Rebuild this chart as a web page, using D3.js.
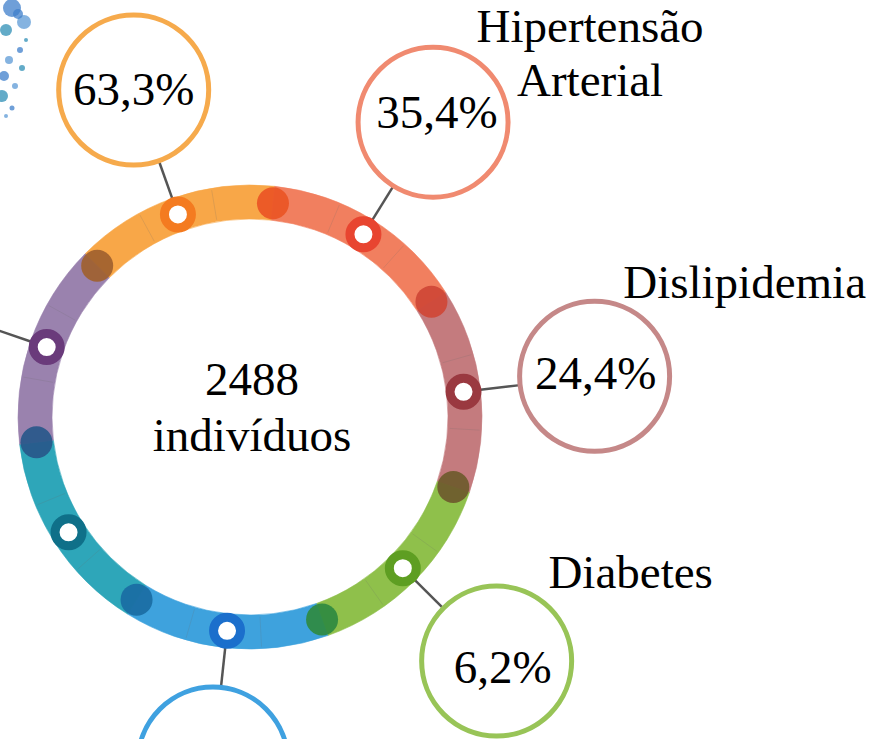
<!DOCTYPE html>
<html>
<head>
<meta charset="utf-8">
<script src="https://cdn.jsdelivr.net/npm/d3@7"></script>
<style>
  html, body { margin: 0; padding: 0; background: #fff; }
  svg { display: block; }
  text { font-family: "Liberation Serif", "Times New Roman", serif; fill: #000; }
</style>
</head>
<body>
<svg id="chart"></svg>
<script>
// chart data
const categories = ['', 'Hipertensão Arterial', 'Dislipidemia', 'Diabetes', '', '', ''];
const values = [63.3, 35.4, 24.4, 6.2, null, null, null];
const total = 2488;
const centerLines = [`${total}`, 'indivíduos'];

// styling
const segColors = ['#f8a748', '#f17f5f', '#c47b7e', '#8fc04b', '#3ea2dd', '#2ea6b9', '#9a82ae'];
const markerColors = ['#f47b20', '#e84530', '#9a3940', '#5e9e22', '#1b6fcc', '#0f7089', '#6a3b7b'];
const dotColors = ['#ea5525', '#cf4636', '#6e5a2c', '#2f8a40', '#1a6ca3', '#28588a', '#a0612f'];
const bubbleColors = ['#f6aa4c', '#f08a70', '#c58888', '#98c457', '#3fa1e0', null, null];

const width = 882;
const height = 739;
const cx = 250;
const cy = 417;
const rInner = 198;
const rOuter = 232;
const rMid = (rInner + rOuter) / 2;
const bubbleDist = 347;
const bubbleR = 75;
const toRad = Math.PI / 180;
const startDeg = -45.3;

// small nudges for text placement (relative to bubble centre)
const pctNudge = [[0, 15], [4, 6], [1, 13], [6, 22], [0, 15], [0, 15], [0, 15]];
const labelNudge = [null, [157, -80], [150, -78], [134, -73], null, null, null];

const svg = d3.select('#chart')
  .attr('width', width)
  .attr('height', height);

// faint paint splatter in the corner
const splat = [[12, 8, 9], [24, 22, 7], [6, 30, 6], [20, 50, 3], [9, 60, 4], [22, 68, 3], [4, 76, 5],
  [15, 86, 3], [2, 96, 6], [12, 108, 2.5], [6, 116, 2], [26, 40, 2], [18, 14, 5]];
svg.append('g')
  .selectAll('circle')
  .data(splat)
  .enter()
  .append('circle')
  .attr('cx', d => d[0])
  .attr('cy', d => d[1])
  .attr('r', d => d[2])
  .style('fill', (d, i) => i % 3 === 0 ? '#3f7fcb' : (i % 3 === 1 ? '#5c9ad6' : '#2f8fb5'))
  .style('opacity', 0.75);

const g = svg.append('g')
  .attr('transform', `translate(${cx}, ${cy})`);

const pie = d3.pie()
  .value(1)
  .sort(null)
  .startAngle(startDeg * toRad)
  .endAngle((startDeg + 360) * toRad);

const arcs = pie(categories.map((c, i) => ({ cat: c, value: values[i], i })));

const arc = d3.arc()
  .innerRadius(rInner)
  .outerRadius(rOuter);

g.selectAll('.seg')
  .data(arcs)
  .enter()
  .append('path')
  .attr('class', 'seg')
  .attr('d', arc)
  .style('fill', (d, i) => segColors[i])
  .style('stroke', (d, i) => segColors[i])
  .style('stroke-width', 0.6);

const polar = (deg, r) => [r * Math.sin(deg * toRad), -r * Math.cos(deg * toRad)];
const midDeg = d => ((d.startAngle + d.endAngle) / 2) / toRad;

// faint seams across the band
const seams = [];
arcs.forEach(d => {
  seams.push(midDeg(d) - 9);
  seams.push(midDeg(d) + 10);
});
g.selectAll('.seam')
  .data(seams)
  .enter()
  .append('line')
  .attr('class', 'seam')
  .attr('x1', d => polar(d, rInner + 2)[0])
  .attr('y1', d => polar(d, rInner + 2)[1])
  .attr('x2', d => polar(d, rOuter - 2)[0])
  .attr('y2', d => polar(d, rOuter - 2)[1])
  .style('stroke', '#6b6b6b')
  .style('stroke-opacity', 0.18)
  .style('stroke-width', 1);

// dots at segment joins
g.selectAll('.dot')
  .data(arcs)
  .enter()
  .append('circle')
  .attr('class', 'dot')
  .attr('cx', d => polar(d.endAngle / toRad, rMid)[0])
  .attr('cy', d => polar(d.endAngle / toRad, rMid)[1])
  .attr('r', 16)
  .style('fill', (d, i) => dotColors[i])
  .style('opacity', 0.92);

// connectors
const withConnector = arcs.filter(d => bubbleColors[d.index] || d.index === 6);
g.selectAll('.conn')
  .data(withConnector)
  .enter()
  .append('line')
  .attr('class', 'conn')
  .attr('x1', d => polar(midDeg(d), rMid + 17)[0])
  .attr('y1', d => polar(midDeg(d), rMid + 17)[1])
  .attr('x2', d => polar(midDeg(d), bubbleDist - bubbleR)[0])
  .attr('y2', d => polar(midDeg(d), bubbleDist - bubbleR)[1])
  .style('stroke', '#555')
  .style('stroke-width', 2.5);

// hollow markers
g.selectAll('.marker')
  .data(arcs)
  .enter()
  .append('circle')
  .attr('class', 'marker')
  .attr('cx', d => polar(midDeg(d), rMid)[0])
  .attr('cy', d => polar(midDeg(d), rMid)[1])
  .attr('r', 13.5)
  .style('fill', '#fff')
  .style('stroke', (d, i) => markerColors[i])
  .style('stroke-width', 9);

// bubbles
const bubbleArcs = arcs.filter(d => bubbleColors[d.index]);
const bubble = g.selectAll('.bubble')
  .data(bubbleArcs)
  .enter()
  .append('g')
  .attr('class', 'bubble')
  .attr('transform', d => {
    const p = polar(midDeg(d), bubbleDist);
    return `translate(${p[0]}, ${p[1]})`;
  });

bubble.append('circle')
  .attr('r', bubbleR)
  .style('fill', '#fff')
  .style('stroke', d => bubbleColors[d.index])
  .style('stroke-width', 5);

bubble.filter(d => d.data.value !== null)
  .append('text')
  .attr('x', d => pctNudge[d.index][0])
  .attr('y', d => pctNudge[d.index][1])
  .attr('text-anchor', 'middle')
  .style('font-size', '47px')
  .text(d => d.data.value.toFixed(1).replace('.', ',') + '%');

// category labels
const labelled = bubble.filter(d => d.data.cat && labelNudge[d.index]);
labelled.append('text')
  .attr('text-anchor', 'middle')
  .style('font-size', '47px')
  .each(function (d) {
    const words = d.data.cat.split(' ');
    const n = labelNudge[d.index];
    const t = d3.select(this);
    words.forEach((w, k) => {
      t.append('tspan')
        .attr('x', n[0])
        .attr('y', n[1] + k * 54)
        .text(w);
    });
  });

// centre text
g.selectAll('.center')
  .data(centerLines)
  .enter()
  .append('text')
  .attr('class', 'center')
  .attr('text-anchor', 'middle')
  .attr('x', 2)
  .attr('y', (d, i) => -22 + i * 56)
  .style('font-size', '47px')
  .text(d => d);
</script>
</body>
</html>
